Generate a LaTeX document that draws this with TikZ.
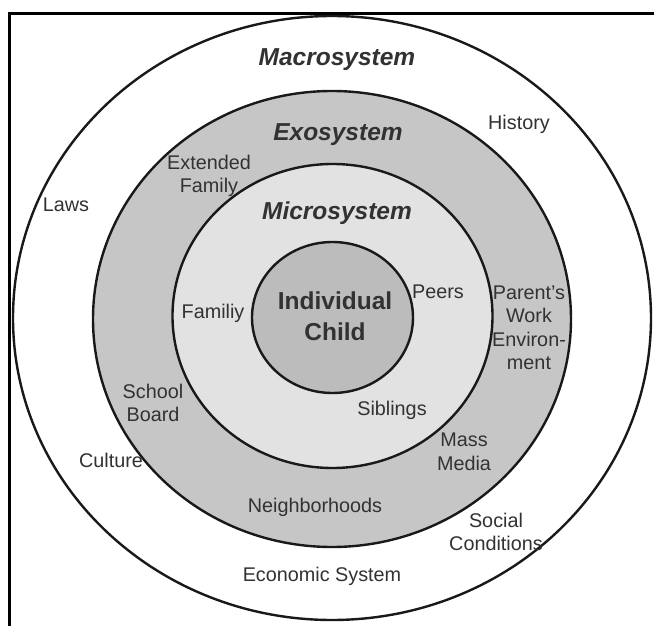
\documentclass[tikz,border=0pt]{standalone}
\usepackage{fontspec}
\setmainfont{Liberation Sans}
\definecolor{exofill}{RGB}{198,198,198}
\definecolor{microfill}{RGB}{226,226,226}
\definecolor{childfill}{RGB}{188,188,188}
\definecolor{ink}{RGB}{50,50,50}
\definecolor{ringline}{RGB}{25,25,25}
\tikzset{
  ring/.style={draw=ringline, line width=2.4pt},
  lbl/.style={text=ink, align=center, inner sep=0pt, font=\fontsize{19.8}{23.5}\selectfont},
  ttl/.style={text=ink, align=center, inner sep=0pt, font=\fontsize{24.5}{28}\selectfont\bfseries\itshape},
  core/.style={text=ink, align=center, inner sep=0pt, font=\fontsize{24.5}{31}\selectfont\bfseries},
}
\begin{document}
\begin{tikzpicture}[x=1pt,y=-1pt]
\useasboundingbox (0,0) rectangle (654,626);
% frame
\draw[line width=3pt, line cap=rect] (9,626) -- (9,14) -- (654,14);
% rings
\draw[ring, fill=white] (332,318) ellipse [x radius=319, y radius=302];
\draw[ring, fill=exofill] (332,319) ellipse [x radius=239, y radius=228];
\draw[ring, fill=microfill] (332.5,316) ellipse [x radius=160, y radius=152];
\draw[ring, fill=childfill] (332.5,317.5) ellipse [x radius=80.5, y radius=75.5];
% titles
\node[ttl] (macro) at (337,60) {Macrosystem};
\node[ttl] (exo) at (338,135) {Exosystem};
\node[ttl] (micro) at (337,213) {Microsystem};
\node[core] (child) at (335,316) {Individual\\Child};
% macro labels
\node[lbl] (history) at (519,124) {History};
\node[lbl] (laws) at (66,205) {Laws};
\node[lbl] (culture) at (111,460) {Culture};
\node[lbl] (econ) at (322,576) {Economic System};
\node[lbl] (social) at (496,532) {Social\\Conditions};
% exo labels
\node[lbl] (extfam) at (209,176) {Extended\\Family};
\node[lbl] (parent) at (529,328) {Parent's\\Work\\Environ-\\ment};
\node[lbl] (school) at (153,403) {School\\Board};
\node[lbl] (mass) at (464,452) {Mass\\Media};
\node[lbl] (neigh) at (315,507) {Neighborhoods};
% micro labels
\node[lbl] (peers) at (438,292) {Peers};
\node[lbl] (family) at (213,313) {Familiy};
\node[lbl] (sibl) at (392,410) {Siblings};
\end{tikzpicture}
\end{document}
